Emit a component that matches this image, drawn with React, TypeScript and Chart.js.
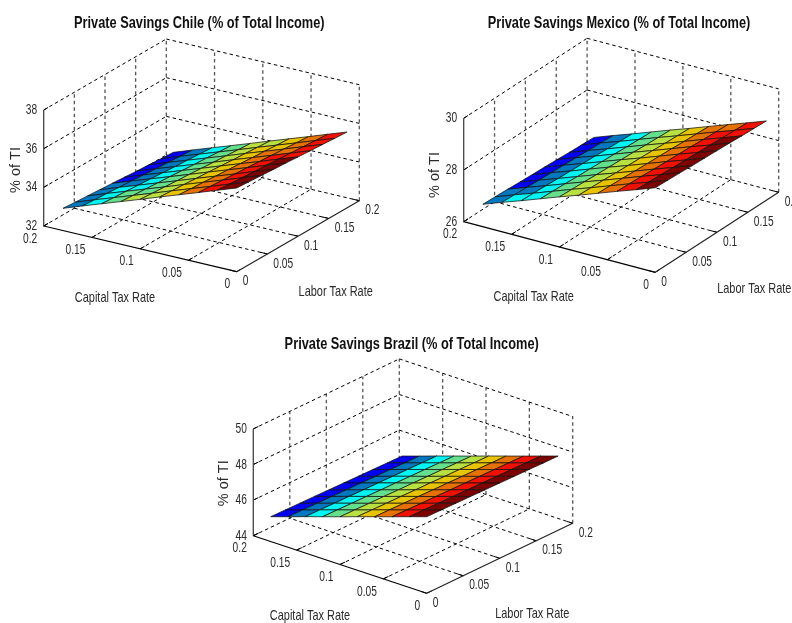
import React, { useEffect, useRef } from "react";
import { Chart, registerables } from "chart.js";

Chart.register(...registerables);

const capitalGrid = [0, 0.02, 0.04, 0.06, 0.08, 0.1, 0.12, 0.14, 0.16, 0.18];
const laborGrid = [0, 0.02, 0.04, 0.06, 0.08, 0.1, 0.12, 0.14, 0.16, 0.18];
const capitalTicks = [0, 0.05, 0.1, 0.15, 0.2];
const laborTicks = [0, 0.05, 0.1, 0.15, 0.2];

const chileTicks = [32, 34, 36, 38];
const mexicoTicks = [26, 28, 30];
const brazilTicks = [44, 46, 48, 50];

// rows: labor tax rate, columns: capital tax rate
const chileSavings = [
  [36.33, 35.98, 35.62, 35.27, 34.92, 34.56, 34.21, 33.86, 33.51, 33.15],
  [36.28, 35.93, 35.57, 35.22, 34.87, 34.51, 34.16, 33.81, 33.46, 33.1],
  [36.24, 35.89, 35.53, 35.18, 34.83, 34.47, 34.12, 33.77, 33.42, 33.06],
  [36.19, 35.84, 35.48, 35.13, 34.78, 34.42, 34.07, 33.72, 33.37, 33.01],
  [36.15, 35.8, 35.44, 35.09, 34.74, 34.38, 34.03, 33.68, 33.33, 32.97],
  [36.1, 35.75, 35.39, 35.04, 34.69, 34.33, 33.98, 33.63, 33.28, 32.92],
  [36.05, 35.7, 35.34, 34.99, 34.64, 34.28, 33.93, 33.58, 33.23, 32.87],
  [36.01, 35.66, 35.3, 34.95, 34.6, 34.24, 33.89, 33.54, 33.19, 32.83],
  [35.96, 35.61, 35.25, 34.9, 34.55, 34.19, 33.84, 33.49, 33.14, 32.78],
  [35.92, 35.57, 35.21, 34.86, 34.51, 34.15, 33.8, 33.45, 33.1, 32.74],
];
const mexicoSavings = [
  [29.27, 29.0, 28.74, 28.47, 28.2, 27.94, 27.67, 27.4, 27.14, 26.87],
  [29.25, 28.98, 28.72, 28.45, 28.18, 27.92, 27.65, 27.38, 27.12, 26.85],
  [29.23, 28.96, 28.7, 28.43, 28.16, 27.9, 27.63, 27.36, 27.1, 26.83],
  [29.2, 28.93, 28.67, 28.4, 28.13, 27.87, 27.6, 27.33, 27.07, 26.8],
  [29.18, 28.91, 28.65, 28.38, 28.11, 27.85, 27.58, 27.31, 27.05, 26.78],
  [29.16, 28.89, 28.63, 28.36, 28.09, 27.83, 27.56, 27.29, 27.03, 26.76],
  [29.14, 28.87, 28.61, 28.34, 28.07, 27.81, 27.54, 27.27, 27.01, 26.74],
  [29.11, 28.84, 28.58, 28.31, 28.04, 27.78, 27.51, 27.24, 26.98, 26.71],
  [29.09, 28.82, 28.56, 28.29, 28.02, 27.76, 27.49, 27.22, 26.96, 26.69],
  [29.07, 28.8, 28.54, 28.27, 28.0, 27.74, 27.47, 27.2, 26.94, 26.67],
];
const brazilSavings = [
  [48.3, 47.98, 47.65, 47.33, 47.01, 46.68, 46.36, 46.04, 45.71, 45.39],
  [48.29, 47.97, 47.64, 47.32, 47.0, 46.67, 46.35, 46.03, 45.7, 45.38],
  [48.27, 47.95, 47.62, 47.3, 46.98, 46.65, 46.33, 46.01, 45.68, 45.36],
  [48.26, 47.94, 47.61, 47.29, 46.97, 46.64, 46.32, 46.0, 45.67, 45.35],
  [48.24, 47.92, 47.59, 47.27, 46.95, 46.62, 46.3, 45.98, 45.65, 45.33],
  [48.23, 47.91, 47.58, 47.26, 46.94, 46.61, 46.29, 45.97, 45.64, 45.32],
  [48.21, 47.89, 47.56, 47.24, 46.92, 46.59, 46.27, 45.95, 45.62, 45.3],
  [48.2, 47.88, 47.55, 47.23, 46.91, 46.58, 46.26, 45.94, 45.61, 45.29],
  [48.18, 47.86, 47.53, 47.21, 46.89, 46.56, 46.24, 45.92, 45.59, 45.27],
  [48.17, 47.85, 47.52, 47.2, 46.88, 46.55, 46.23, 45.91, 45.58, 45.26],
];

const surfaceColors = [
  "#0000f0", "#0078c0", "#00f5f5", "#64e08c", "#b8e040",
  "#e8c400", "#e67000", "#f01000", "#7c0000",
];

const FONT = '"Liberation Sans", Arial, sans-serif';
const TEXT = "#2a2a2a";

type Pt = [number, number];
type PanelCfg = {
  title: string;
  left: number; top: number; width: number; height: number;
  titleAt: Pt;
  A: Pt; B: Pt; C: Pt; zPx: number;
  zTicks: number[]; savings: number[][];
  capLabel: Pt; labLabel: Pt; zLabel: Pt;
};

const panels: PanelCfg[] = [
  {
    title: "Private Savings Chile (% of Total Income)",
    left: 0, top: 0, width: 396, height: 312, titleAt: [199.3, 23],
    A: [43.7, 226], B: [236.7, 271.7], C: [359.3, 200.7], zPx: 19.33,
    zTicks: chileTicks, savings: chileSavings,
    capLabel: [115, 297.7], labLabel: [335.7, 291.7], zLabel: [15.7, 170],
  },
  {
    title: "Private Savings Mexico (% of Total Income)",
    left: 396, top: 0, width: 396, height: 312, titleAt: [223, 23],
    A: [67.7, 221.7], B: [259.3, 272.3], C: [382.7, 192.3], zPx: 25.85,
    zTicks: mexicoTicks, savings: mexicoSavings,
    capLabel: [137.7, 296.7], labLabel: [358.3, 289], zLabel: [39.3, 175],
  },
  {
    title: "Private Savings Brazil (% of Total Income)",
    left: 200, top: 320, width: 396, height: 303, titleAt: [211.7, 24.5],
    A: [53.3, 215.7], B: [226.7, 273.3], C: [372.7, 203.3], zPx: 17.8,
    zTicks: brazilTicks, savings: brazilSavings,
    capLabel: [110, 296], labLabel: [332.3, 294], zLabel: [24.3, 163.3],
  },
];

function drawText(ctx: CanvasRenderingContext2D, text: string, x: number, y: number, align: CanvasTextAlign, sx: number) {
  ctx.save();
  ctx.translate(x, y);
  ctx.scale(sx, 1);
  ctx.textAlign = align;
  ctx.fillText(text, 0, 0);
  ctx.restore();
}

function buildConfig(cfg: PanelCfg) {
  const zMin = cfg.zTicks[0];
  const zMax = cfg.zTicks[cfg.zTicks.length - 1];
  const project = (cap: number, lab: number, z: number) => ({
    x: cfg.B[0] + (cap / 0.2) * (cfg.A[0] - cfg.B[0]) + (lab / 0.2) * (cfg.C[0] - cfg.B[0]),
    y: cfg.B[1] + (cap / 0.2) * (cfg.A[1] - cfg.B[1]) + (lab / 0.2) * (cfg.C[1] - cfg.B[1]) - (z - zMin) * cfg.zPx,
  });
  const datasets: any[] = [];
  const line = (a: any, b: any, solid = false, color = "#000", width = 1) =>
    datasets.push({
      data: [a, b],
      showLine: true,
      pointRadius: 0,
      borderColor: color,
      borderWidth: width,
      borderDash: solid ? [] : [3.5, 3],
      fill: false,
      clip: false,
      order: solid ? 5000 : 6000,
    });

  capitalTicks.forEach((c) => {
    if (c > 0) line(project(c, 0, zMin), project(c, 0.2, zMin));
  });
  laborTicks.forEach((l) => {
    if (l > 0) line(project(0, l, zMin), project(0.2, l, zMin));
  });
  cfg.zTicks.forEach((z) => {
    if (z > zMin) line(project(0.2, 0, z), project(0.2, 0.2, z));
    if (z > zMin) line(project(0.2, 0.2, z), project(0, 0.2, z));
  });
  laborTicks.forEach((l) => {
    if (l > 0) line(project(0.2, l, zMin), project(0.2, l, zMax), false, "#555", 1.3);
  });
  capitalTicks.forEach((c) => {
    if (c < 0.2) line(project(c, 0.2, zMin), project(c, 0.2, zMax), false, "#555", 1.3);
  });
  line(project(0.2, 0, zMin), project(0, 0, zMin), true, "#000", 1.2);
  line(project(0, 0, zMin), project(0, 0.2, zMin), true, "#222", 1.2);
  line(project(0.2, 0, zMin), project(0.2, 0, zMax), true, "#444", 1.3);
  capitalTicks.forEach((c) => line(project(c, 0, zMin), project(c, 0.007, zMin), true));
  laborTicks.forEach((l) => line(project(0, l, zMin), project(0.007, l, zMin), true));
  cfg.zTicks.forEach((z) => line(project(0.2, 0, z), project(0.2, 0.007, z), true));

  const means: number[][] = [];
  for (let j = 0; j < laborGrid.length - 1; j++) {
    means.push([]);
    for (let i = 0; i < capitalGrid.length - 1; i++) {
      const s = cfg.savings;
      means[j].push((s[j][i] + s[j][i + 1] + s[j + 1][i] + s[j + 1][i + 1]) / 4);
    }
  }
  const flat = means.flat();
  const lo = Math.min(...flat);
  const hi = Math.max(...flat);
  for (let j = 0; j < laborGrid.length - 1; j++) {
    for (let i = 0; i < capitalGrid.length - 1; i++) {
      const s = cfg.savings;
      const c0 = capitalGrid[i], c1 = capitalGrid[i + 1];
      const l0 = laborGrid[j], l1 = laborGrid[j + 1];
      const band = Math.round(((means[j][i] - lo) / (hi - lo)) * (surfaceColors.length - 1));
      datasets.push({
        data: [
          project(c0, l0, s[j][i]),
          project(c1, l0, s[j][i + 1]),
          project(c1, l1, s[j + 1][i + 1]),
          project(c0, l1, s[j + 1][i]),
          project(c0, l0, s[j][i]),
        ],
        showLine: true,
        pointRadius: 0,
        borderColor: "#111",
        borderWidth: 0.75,
        backgroundColor: surfaceColors[band],
        fill: "shape",
        tension: 0,
        clip: false,
        order: 100 + (j + i),
      });
    }
  }

  const labelsPlugin = {
    id: "axisText",
    afterDraw(chart: any) {
      const { ctx, scales } = chart;
      const px = (p: { x: number; y: number }) => ({
        x: scales.x.getPixelForValue(p.x),
        y: scales.y.getPixelForValue(p.y),
      });
      ctx.save();
      ctx.fillStyle = TEXT;
      ctx.textBaseline = "middle";
      ctx.font = `15px ${FONT}`;
      capitalTicks.forEach((c) => {
        const p = px(project(c, 0, zMin));
        drawText(ctx, String(c), p.x - 6.5, p.y + 12.5, "right", 0.68);
      });
      cfg.zTicks.forEach((z) => {
        const p = px(project(0.2, 0, z));
        drawText(ctx, String(z), p.x - 6.5, p.y, "right", 0.68);
      });
      laborTicks.forEach((l) => {
        const p = px(project(0, l, zMin));
        drawText(ctx, String(l), p.x + 6, p.y + 9.5, "left", 0.68);
      });
      ctx.font = `15px ${FONT}`;
      drawText(ctx, "Capital Tax Rate", cfg.capLabel[0], cfg.capLabel[1], "center", 0.73);
      drawText(ctx, "Labor Tax Rate", cfg.labLabel[0], cfg.labLabel[1], "center", 0.73);
      ctx.fillStyle = "#111";
      ctx.font = `bold 16.5px ${FONT}`;
      drawText(ctx, cfg.title, cfg.titleAt[0], cfg.titleAt[1], "center", 0.775);
      ctx.fillStyle = TEXT;
      ctx.translate(cfg.zLabel[0], cfg.zLabel[1]);
      ctx.rotate(-Math.PI / 2);
      ctx.font = `14.5px ${FONT}`;
      ctx.textAlign = "center";
      ctx.fillText("% of TI", 0, 0);
      ctx.restore();
    },
  };

  return {
    type: "scatter" as const,
    data: { datasets },
    plugins: [labelsPlugin],
    options: {
      animation: false as const,
      responsive: false,
      events: [],
      layout: { padding: 0 },
      plugins: {
        legend: { display: false },
        tooltip: { enabled: false },
      },
      scales: {
        x: { type: "linear" as const, display: false, min: 0, max: cfg.width },
        y: { type: "linear" as const, display: false, reverse: true, min: 0, max: cfg.height },
      },
    },
  };
}

function Panel({ cfg }: { cfg: PanelCfg }) {
  const ref = useRef<HTMLCanvasElement>(null);
  useEffect(() => {
    const chart = new Chart(ref.current!, buildConfig(cfg) as any);
    return () => chart.destroy();
  }, [cfg]);
  return (
    <canvas
      ref={ref}
      width={cfg.width}
      height={cfg.height}
      style={{ position: "absolute", left: cfg.left, top: cfg.top, width: cfg.width, height: cfg.height, display: "block" }}
    />
  );
}

export default function App() {
  useEffect(() => {
    document.body.style.margin = "0";
    document.body.style.background = "#fff";
  }, []);
  return (
    <div style={{ position: "absolute", left: 0, top: 0, width: 792, height: 623, overflow: "hidden", background: "#fff" }}>
      {panels.map((p) => (
        <Panel key={p.title} cfg={p} />
      ))}
    </div>
  );
}
